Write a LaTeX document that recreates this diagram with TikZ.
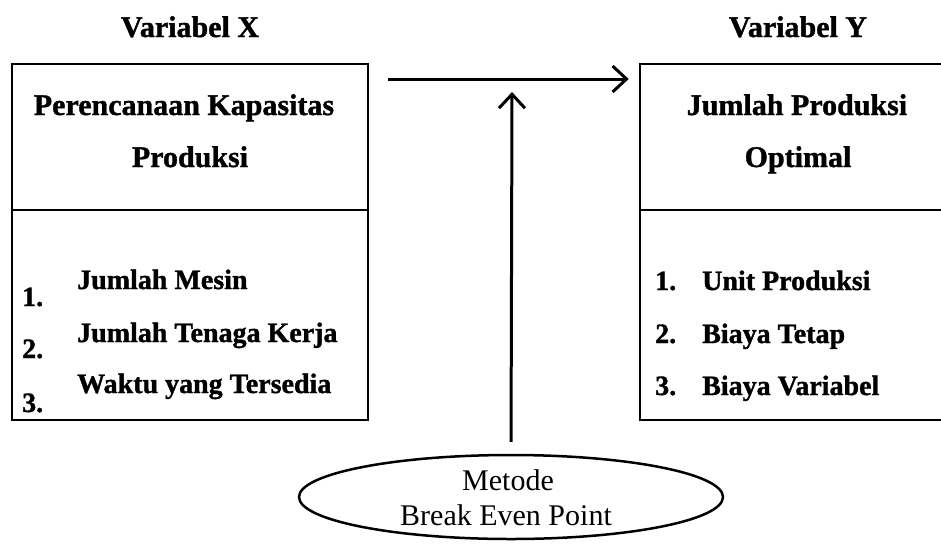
\documentclass[tikz,border=0pt]{standalone}
\usepackage{fontspec}
\setmainfont{Liberation Serif}[BoldFeatures={FakeBold=1.2}]
\usetikzlibrary{arrows.meta,shapes.geometric}
\begin{document}
\begin{tikzpicture}[x=1pt,y=-1pt,
  panel/.style={draw, line width=2.5pt, inner sep=0pt},
  txt/.style={anchor=base, inner sep=0pt, font=\fontsize{30}{36}\selectfont\bfseries},
  item/.style={anchor=base west, inner sep=0pt, font=\fontsize{28}{34}\selectfont\bfseries},
  plain/.style={anchor=base, inner sep=0pt, font=\fontsize{30}{36}\selectfont},
  arr/.style={line width=3pt, -{Straight Barb[length=14pt,width=26pt]}}]
\useasboundingbox (0,0) rectangle (941,544);
\clip (0,0) rectangle (941,544);

% Variable X panels
\node[panel, minimum width=356pt, minimum height=146pt] (xhead) at (190,137) {};
\node[panel, minimum width=356pt, minimum height=210pt] (xbody) at (190,315) {};
% Variable Y panels (running past the right edge)
\node[panel, minimum width=320pt, minimum height=146pt] (yhead) at (800,137) {};
\node[panel, minimum width=320pt, minimum height=210pt] (ybody) at (800,315) {};

% Titles
\node[txt] (tx) at (190,37) {Variabel X};
\node[txt] (ty) at (798,37) {Variabel Y};

\node[txt] (xh1) at (184,115) {Perencanaan Kapasitas};
\node[txt] (xh2) at (190,167) {Produksi};
\node[txt] (yh1) at (797,115) {Jumlah Produksi};
\node[txt] (yh2) at (798,167) {Optimal};

% Indicators of X
\node[item] (xn1) at (22,306) {1.};
\node[item] (xn2) at (22,358) {2.};
\node[item] (xn3) at (22,412) {3.};
\node[item] (xi1) at (77,289) {Jumlah Mesin};
\node[item] (xi2) at (77,342) {Jumlah Tenaga Kerja};
\node[item] (xi3) at (77,393) {Waktu yang Tersedia};

% Indicators of Y
\node[item] (yn1) at (655,290) {1.};
\node[item] (yn2) at (655,343) {2.};
\node[item] (yn3) at (655,395) {3.};
\node[item] (yi1) at (702,290) {Unit Produksi};
\node[item] (yi2) at (702,343) {Biaya Tetap};
\node[item] (yi3) at (702,395) {Biaya Variabel};

% Method
\node[draw, ellipse, line width=2.5pt, minimum width=424pt, minimum height=84pt, inner sep=0pt] (bep) at (511,497) {};
\node[plain] (m1) at (508,490) {Metode};
\node[plain] (m2) at (506,525) {Break Even Point};

% Connectors
\coordinate (hs) at (388,79);
\coordinate (vt) at (512,92);
\draw[arr, shorten >=10pt] (hs) -- (yhead.west |- hs);
\draw[arr, shorten <=12pt] (bep.north) -- (vt);
\end{tikzpicture}
\end{document}
